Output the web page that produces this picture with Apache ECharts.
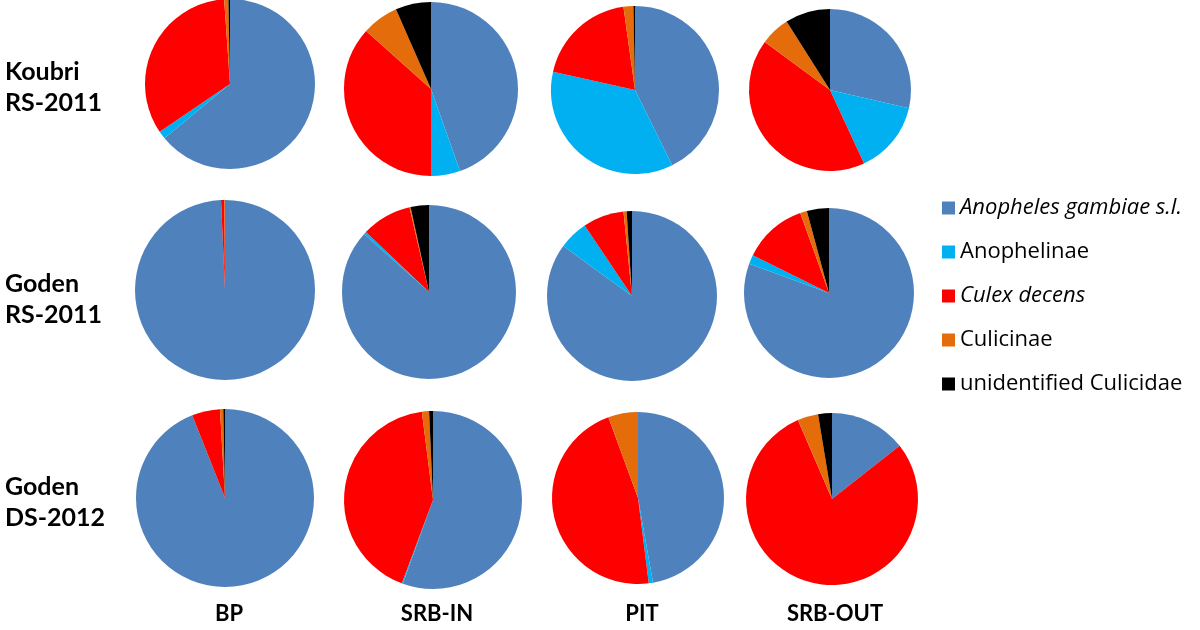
<!DOCTYPE html>
<html>
<head>
<meta charset="utf-8">
<script src="https://cdn.jsdelivr.net/npm/echarts@6/dist/echarts.min.js"></script>
<style>html,body{margin:0;padding:0;background:#fff}#c{width:1200px;height:630px}</style>
</head>
<body>
<div id="c"></div>
<script>
const taxa = ['Anopheles gambiae s.l.', 'Anophelinae', 'Culex decens', 'Culicinae', 'unidentified Culicidae'];
const italicTaxa = ['Anopheles gambiae s.l.', 'Culex decens'];
const rowLabels = [['Koubri', 'RS-2011'], ['Goden', 'RS-2011'], ['Goden', 'DS-2012']];
const colLabels = ['BP', 'SRB-IN', 'PIT', 'SRB-OUT'];
// percentages per trap, order: taxa
const koubriRS2011 = [
  [64.0, 1.5, 33.4, 0.8, 0.3],   // BP
  [44.6, 5.4, 36.6, 6.8, 6.6],   // SRB-IN
  [42.7, 35.8, 19.3, 1.9, 0.3],  // PIT
  [28.6, 14.5, 42.0, 5.9, 9.0]   // SRB-OUT
];
const godenRS2011 = [
  [99.3, 0.0, 0.6, 0.1, 0.0],
  [86.6, 0.5, 9.3, 0.2, 3.4],
  [85.0, 5.6, 7.8, 0.6, 1.0],
  [80.6, 1.7, 12.2, 1.3, 4.2]
];
const godenDS2012 = [
  [94.0, 0.0, 5.1, 0.6, 0.3],
  [55.5, 0.2, 42.3, 1.3, 0.7],
  [47.2, 0.8, 46.4, 5.6, 0.0],
  [14.4, 0.0, 79.1, 3.9, 2.6]
];
const rows = [koubriRS2011, godenRS2011, godenDS2012];
const colors = ['#4F81BD', '#00B0F0', '#FF0000', '#E46C0A', '#000000'];

// layout (pixels)
const centers = [
  [[230, 84], [431, 89], [635, 90], [830, 90]],
  [[225, 290], [429, 292], [632, 296], [829, 293]],
  [[225, 498], [433, 500], [638, 498], [832, 499]]
];
const radii = [[85, 87, 84, 81], [90, 87, 85, 85], [89, 89, 86, 86]];

const series = [];
rows.forEach((row, r) => {
  row.forEach((vals, c) => {
    series.push({
      type: 'pie',
      center: centers[r][c],
      radius: radii[r][c],
      startAngle: 90,
      clockwise: true,
      avoidLabelOverlap: false,
      label: { show: false },
      labelLine: { show: false },
      emphasis: { disabled: true },
      silent: true,
      minAngle: 0,
      itemStyle: { borderWidth: 0 },
      data: taxa.map((t, i) => ({ name: t, value: vals[i], itemStyle: { color: colors[i] } }))
    });
  });
});

const titles = [];
const rowY = [70, 282, 485];
rowLabels.forEach((lines, r) => {
  titles.push({
    text: lines.join('\n'),
    left: 0,
    top: rowY[r] - 19,
    textStyle: { fontFamily: 'Lato', fontWeight: 'bold', fontSize: 25, lineHeight: 31, color: '#000' }
  });
});
const colX = [224, 432, 637, 830];
colLabels.forEach((t, c) => {
  titles.push({
    text: t,
    left: colX[c],
    top: 598,
    textAlign: 'center',
    textStyle: { fontFamily: 'Lato', fontWeight: 'bold', fontSize: 22, color: '#000' }
  });
});

const chart = echarts.init(document.getElementById('c'), null, { renderer: 'canvas' });
chart.setOption({
  animation: false,
  backgroundColor: '#fff',
  title: titles,
  legend: {
    orient: 'vertical',
    left: 937,
    top: 190,
    itemWidth: 13,
    itemHeight: 13,
    itemGap: 18,
    icon: 'rect',
    selectedMode: false,
    data: taxa,
    formatter: function (name) {
      return italicTaxa.indexOf(name) >= 0 ? '{it|' + name + '}' : '{n|' + name + '}';
    },
    textStyle: {
      fontFamily: 'Open Sans', fontSize: 22, color: '#000', lineHeight: 26,
      rich: {
        it: { fontFamily: 'Open Sans', fontStyle: 'italic', fontSize: 22, color: '#000', lineHeight: 26 },
        n: { fontFamily: 'Open Sans', fontSize: 22, color: '#000', lineHeight: 26 }
      }
    }
  },
  series: series
});
</script>
</body>
</html>
